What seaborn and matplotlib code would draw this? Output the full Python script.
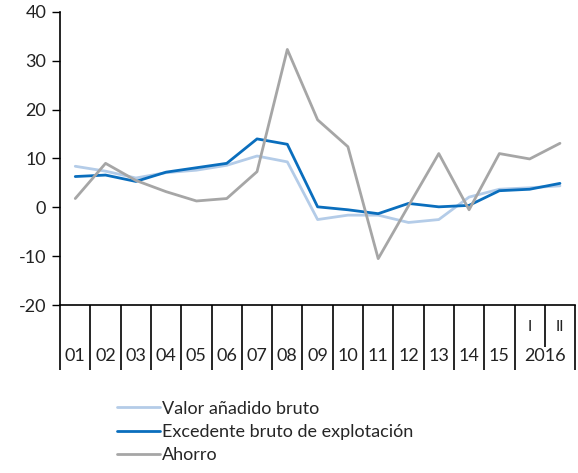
import seaborn as sns
import pandas as pd
import matplotlib.pyplot as plt
import matplotlib.transforms as mtransforms

# Periods: 2001..2015 yearly, then 2016 quarters I and II
periods = ["01", "02", "03", "04", "05", "06", "07", "08", "09", "10",
           "11", "12", "13", "14", "15", "I", "II"]

vab = [8.4, 7.4, 6.0, 7.1, 7.6, 8.6, 10.5, 9.3, -2.5, -1.6, -1.6, -3.1,
       -2.5, 2.1, 3.7, 4.0, 4.4]
ebe = [6.3, 6.6, 5.3, 7.2, 8.1, 9.0, 14.0, 12.9, 0.1, -0.5, -1.3, 0.8,
       0.1, 0.4, 3.4, 3.7, 4.9]
ahorro = [1.8, 9.0, 5.5, 3.2, 1.3, 1.8, 7.3, 32.3, 17.9, 12.4, -10.5, 0.3,
          11.0, -0.5, 11.0, 9.9, 13.1]

series = {
    "Valor añadido bruto": vab,
    "Excedente bruto de explotación": ebe,
    "Ahorro": ahorro,
}
colors = ["#b4cce8", "#0a6ebd", "#a6a6a6"]

df = pd.concat(
    [pd.DataFrame({"pos": range(len(periods)), "value": v, "serie": name})
     for name, v in series.items()],
    ignore_index=True,
)

sns.set_style("white")
plt.rcParams["font.family"] = ["Lato", "DejaVu Sans"]
plt.rcParams["axes.unicode_minus"] = False

fig = plt.figure(figsize=(5.78, 4.73), dpi=100)
ax = fig.add_axes([0.104, 0.355, 0.891, 0.62])

sns.lineplot(data=df, x="pos", y="value", hue="serie", palette=colors,
             linewidth=2.0, ax=ax, legend=True)

ax.set_xlim(-0.5, len(periods) - 0.5)
ax.set_ylim(-20, 40)
ax.set_yticks(range(-20, 41, 10))
ax.set_xlabel("")
ax.set_ylabel("")
ax.tick_params(axis="y", direction="out", length=6, width=1, color="black",
               labelsize=13, colors="#222222", left=True, pad=4)

for s in ["top", "right"]:
    ax.spines[s].set_visible(False)
for s in ["left", "bottom"]:
    ax.spines[s].set_color("black")
    ax.spines[s].set_linewidth(1.2)

# x ticks as separators between periods; shorter one between I and II
bounds = [b - 0.5 for b in range(len(periods) + 1)]
major = [b for b in bounds if b != 15.5]
ax.set_xticks(major)
ax.set_xticklabels([])
ax.set_xticks([15.5], minor=True)
ax.tick_params(axis="x", which="major", direction="out", length=47,
               width=1.2, color="black", bottom=True)
ax.tick_params(axis="x", which="minor", direction="out", length=30,
               width=1.2, color="black", bottom=True)

trans = mtransforms.blended_transform_factory(ax.transData, ax.transAxes)
for i, p in enumerate(periods):
    if i < 15:
        ax.text(i, -0.175, p, transform=trans, ha="center", va="center",
                fontsize=13, color="#222222")
    else:
        ax.text(i, -0.075, p, transform=trans, ha="center", va="center",
                fontsize=11, color="#222222")
ax.text(15.5, -0.175, "2016", transform=trans, ha="center", va="center",
        fontsize=13, color="#222222")

handles, labels = ax.get_legend_handles_labels()
ax.legend_.remove()
fig.legend(handles, labels, loc="upper left", bbox_to_anchor=(0.19, 0.168),
           frameon=False, fontsize=13, handlelength=2.4, handletextpad=0.1,
           labelspacing=0.4, borderaxespad=0)

fig.savefig("out.png", dpi=100)
